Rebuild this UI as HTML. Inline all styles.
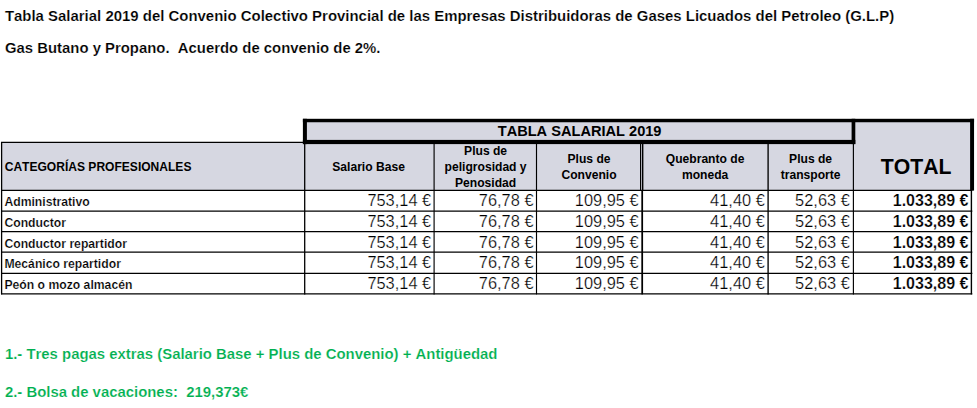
<!DOCTYPE html>
<html><head><meta charset="utf-8"><title>Tabla Salarial 2019</title>
<style>
html,body{margin:0;padding:0;background:#fff;}
body{width:977px;height:408px;overflow:hidden;}
svg{display:block;font-family:"Liberation Sans",sans-serif;}
text{white-space:pre;font-kerning:none;}
</style></head><body>
<svg width="977" height="408" viewBox="0 0 977 408">
<rect x="1" y="142" width="971.00" height="48.50" fill="#d6d7e1"/>
<rect x="304" y="120" width="668.00" height="24.00" fill="#d6d7e1"/>
<line x1="1" y1="142.40" x2="304" y2="142.40" stroke="#000" stroke-width="1.15"/>
<line x1="1" y1="190.30" x2="972.3" y2="190.30" stroke="#000" stroke-width="1.2"/>
<line x1="1" y1="211.20" x2="972.3" y2="211.20" stroke="#000" stroke-width="1.2"/>
<line x1="1" y1="231.65" x2="972.3" y2="231.65" stroke="#000" stroke-width="1.2"/>
<line x1="1" y1="252.15" x2="972.3" y2="252.15" stroke="#000" stroke-width="1.2"/>
<line x1="1" y1="273.30" x2="972.3" y2="273.30" stroke="#000" stroke-width="1.2"/>
<line x1="1" y1="293.80" x2="972.3" y2="293.80" stroke="#000" stroke-width="1.2"/>
<line x1="1.60" y1="142" x2="1.60" y2="294.4" stroke="#000" stroke-width="1.3"/>
<line x1="304.70" y1="142" x2="304.70" y2="294.4" stroke="#000" stroke-width="1.3"/>
<line x1="434.10" y1="143" x2="434.10" y2="294.4" stroke="#000" stroke-width="1.15"/>
<line x1="536.50" y1="143" x2="536.50" y2="294.4" stroke="#000" stroke-width="1.15"/>
<line x1="640.50" y1="143" x2="640.50" y2="190.5" stroke="#000" stroke-width="1.0"/>
<line x1="642.60" y1="143" x2="642.60" y2="190.5" stroke="#000" stroke-width="1.6"/>
<line x1="642.20" y1="190.5" x2="642.20" y2="294.4" stroke="#000" stroke-width="1.75"/>
<line x1="768.10" y1="143" x2="768.10" y2="294.4" stroke="#000" stroke-width="1.35"/>
<line x1="853.40" y1="143" x2="853.40" y2="294.4" stroke="#000" stroke-width="1.15"/>
<line x1="971.40" y1="190" x2="971.40" y2="294.4" stroke="#000" stroke-width="1.4"/>
<rect x="302.9" y="118.8" width="671.15" height="3.45" fill="#000"/>
<rect x="302.9" y="118.8" width="4.00" height="25.30" fill="#000"/>
<rect x="302.9" y="139.9" width="552.40" height="4.20" fill="#000"/>
<rect x="851.6" y="118.8" width="3.70" height="25.30" fill="#000"/>
<rect x="970.1" y="118.8" width="3.95" height="71.80" fill="#000"/>
<text transform="translate(4.9 21) scale(0.9962 1)" font-size="15.0" font-weight="bold" fill="#000" text-anchor="start" stroke="#fff" stroke-width="0.18">Tabla Salarial 2019 del Convenio Colectivo Provincial de las Empresas Distribuidoras de Gases Licuados del Petroleo (G.L.P)</text>
<text transform="translate(5.0 53) scale(0.9927 1)" font-size="15.0" font-weight="bold" fill="#000" text-anchor="start" stroke="#fff" stroke-width="0.18">Gas Butano y Propano.  Acuerdo de convenio de 2%.</text>
<text transform="translate(4.9 359) scale(0.9945 1)" font-size="15.0" font-weight="bold" fill="#00b050" text-anchor="start" stroke="#fff" stroke-width="0.18">1.- Tres pagas extras (Salario Base + Plus de Convenio) + Antigüedad</text>
<text transform="translate(4.9 397) scale(0.9938 1)" font-size="15.0" font-weight="bold" fill="#00b050" text-anchor="start" stroke="#fff" stroke-width="0.18">2.- Bolsa de vacaciones:  219,373€</text>
<text transform="translate(579.6 136) scale(0.9550 1)" font-size="15.3" font-weight="bold" fill="#000" text-anchor="middle">TABLA SALARIAL 2019</text>
<text x="4.7" y="171" font-size="12.05" font-weight="bold" fill="#000" text-anchor="start">CATEGORÍAS PROFESIONALES</text>
<text x="368.6" y="171" font-size="12.1" font-weight="bold" fill="#000" text-anchor="middle">Salario Base</text>
<text x="485.6" y="155" font-size="12.1" font-weight="bold" fill="#000" text-anchor="middle">Plus de</text>
<text x="485.6" y="171" font-size="12.1" font-weight="bold" fill="#000" text-anchor="middle">peligrosidad y</text>
<text x="485.6" y="187" font-size="12.1" font-weight="bold" fill="#000" text-anchor="middle">Penosidad</text>
<text x="589" y="163" font-size="12.1" font-weight="bold" fill="#000" text-anchor="middle">Plus de</text>
<text x="589" y="179" font-size="12.1" font-weight="bold" fill="#000" text-anchor="middle">Convenio</text>
<text x="705.1" y="163" font-size="12.1" font-weight="bold" fill="#000" text-anchor="middle">Quebranto de</text>
<text x="705.1" y="179" font-size="12.1" font-weight="bold" fill="#000" text-anchor="middle">moneda</text>
<text x="810.6" y="163" font-size="12.1" font-weight="bold" fill="#000" text-anchor="middle">Plus de</text>
<text x="810.6" y="179" font-size="12.1" font-weight="bold" fill="#000" text-anchor="middle">transporte</text>
<text transform="translate(916.1 174) scale(0.9270 1)" font-size="22.9" font-weight="bold" fill="#000" text-anchor="middle">TOTAL</text>
<text x="4.4" y="206" font-size="12.2" font-weight="bold" fill="#000" text-anchor="start" stroke="#fff" stroke-width="0.2">Administrativo</text>
<text x="431.2" y="206" font-size="16.4" font-weight="normal" fill="#000" text-anchor="end" stroke="#fff" stroke-width="0.24">753,14 €</text>
<text x="533.5" y="206" font-size="16.4" font-weight="normal" fill="#000" text-anchor="end" stroke="#fff" stroke-width="0.24">76,78 €</text>
<text x="638.6" y="206" font-size="16.4" font-weight="normal" fill="#000" text-anchor="end" stroke="#fff" stroke-width="0.24">109,95 €</text>
<text x="764.8" y="206" font-size="16.4" font-weight="normal" fill="#000" text-anchor="end" stroke="#fff" stroke-width="0.24">41,40 €</text>
<text x="849.8" y="206" font-size="16.4" font-weight="normal" fill="#000" text-anchor="end" stroke="#fff" stroke-width="0.24">52,63 €</text>
<text x="968.4" y="206" font-size="16" font-weight="bold" fill="#000" text-anchor="end" stroke="#fff" stroke-width="0.2">1.033,89 €</text>
<text x="4.4" y="227" font-size="12.2" font-weight="bold" fill="#000" text-anchor="start" stroke="#fff" stroke-width="0.2">Conductor</text>
<text x="431.2" y="227" font-size="16.4" font-weight="normal" fill="#000" text-anchor="end" stroke="#fff" stroke-width="0.24">753,14 €</text>
<text x="533.5" y="227" font-size="16.4" font-weight="normal" fill="#000" text-anchor="end" stroke="#fff" stroke-width="0.24">76,78 €</text>
<text x="638.6" y="227" font-size="16.4" font-weight="normal" fill="#000" text-anchor="end" stroke="#fff" stroke-width="0.24">109,95 €</text>
<text x="764.8" y="227" font-size="16.4" font-weight="normal" fill="#000" text-anchor="end" stroke="#fff" stroke-width="0.24">41,40 €</text>
<text x="849.8" y="227" font-size="16.4" font-weight="normal" fill="#000" text-anchor="end" stroke="#fff" stroke-width="0.24">52,63 €</text>
<text x="968.4" y="227" font-size="16" font-weight="bold" fill="#000" text-anchor="end" stroke="#fff" stroke-width="0.2">1.033,89 €</text>
<text x="4.4" y="248" font-size="12.2" font-weight="bold" fill="#000" text-anchor="start" stroke="#fff" stroke-width="0.2">Conductor repartidor</text>
<text x="431.2" y="248" font-size="16.4" font-weight="normal" fill="#000" text-anchor="end" stroke="#fff" stroke-width="0.24">753,14 €</text>
<text x="533.5" y="248" font-size="16.4" font-weight="normal" fill="#000" text-anchor="end" stroke="#fff" stroke-width="0.24">76,78 €</text>
<text x="638.6" y="248" font-size="16.4" font-weight="normal" fill="#000" text-anchor="end" stroke="#fff" stroke-width="0.24">109,95 €</text>
<text x="764.8" y="248" font-size="16.4" font-weight="normal" fill="#000" text-anchor="end" stroke="#fff" stroke-width="0.24">41,40 €</text>
<text x="849.8" y="248" font-size="16.4" font-weight="normal" fill="#000" text-anchor="end" stroke="#fff" stroke-width="0.24">52,63 €</text>
<text x="968.4" y="248" font-size="16" font-weight="bold" fill="#000" text-anchor="end" stroke="#fff" stroke-width="0.2">1.033,89 €</text>
<text x="4.4" y="268" font-size="12.2" font-weight="bold" fill="#000" text-anchor="start" stroke="#fff" stroke-width="0.2">Mecánico repartidor</text>
<text x="431.2" y="268" font-size="16.4" font-weight="normal" fill="#000" text-anchor="end" stroke="#fff" stroke-width="0.24">753,14 €</text>
<text x="533.5" y="268" font-size="16.4" font-weight="normal" fill="#000" text-anchor="end" stroke="#fff" stroke-width="0.24">76,78 €</text>
<text x="638.6" y="268" font-size="16.4" font-weight="normal" fill="#000" text-anchor="end" stroke="#fff" stroke-width="0.24">109,95 €</text>
<text x="764.8" y="268" font-size="16.4" font-weight="normal" fill="#000" text-anchor="end" stroke="#fff" stroke-width="0.24">41,40 €</text>
<text x="849.8" y="268" font-size="16.4" font-weight="normal" fill="#000" text-anchor="end" stroke="#fff" stroke-width="0.24">52,63 €</text>
<text x="968.4" y="268" font-size="16" font-weight="bold" fill="#000" text-anchor="end" stroke="#fff" stroke-width="0.2">1.033,89 €</text>
<text x="4.4" y="289" font-size="12.2" font-weight="bold" fill="#000" text-anchor="start" stroke="#fff" stroke-width="0.2">Peón o mozo almacén</text>
<text x="431.2" y="289" font-size="16.4" font-weight="normal" fill="#000" text-anchor="end" stroke="#fff" stroke-width="0.24">753,14 €</text>
<text x="533.5" y="289" font-size="16.4" font-weight="normal" fill="#000" text-anchor="end" stroke="#fff" stroke-width="0.24">76,78 €</text>
<text x="638.6" y="289" font-size="16.4" font-weight="normal" fill="#000" text-anchor="end" stroke="#fff" stroke-width="0.24">109,95 €</text>
<text x="764.8" y="289" font-size="16.4" font-weight="normal" fill="#000" text-anchor="end" stroke="#fff" stroke-width="0.24">41,40 €</text>
<text x="849.8" y="289" font-size="16.4" font-weight="normal" fill="#000" text-anchor="end" stroke="#fff" stroke-width="0.24">52,63 €</text>
<text x="968.4" y="289" font-size="16" font-weight="bold" fill="#000" text-anchor="end" stroke="#fff" stroke-width="0.2">1.033,89 €</text>
</svg>
</body></html>
